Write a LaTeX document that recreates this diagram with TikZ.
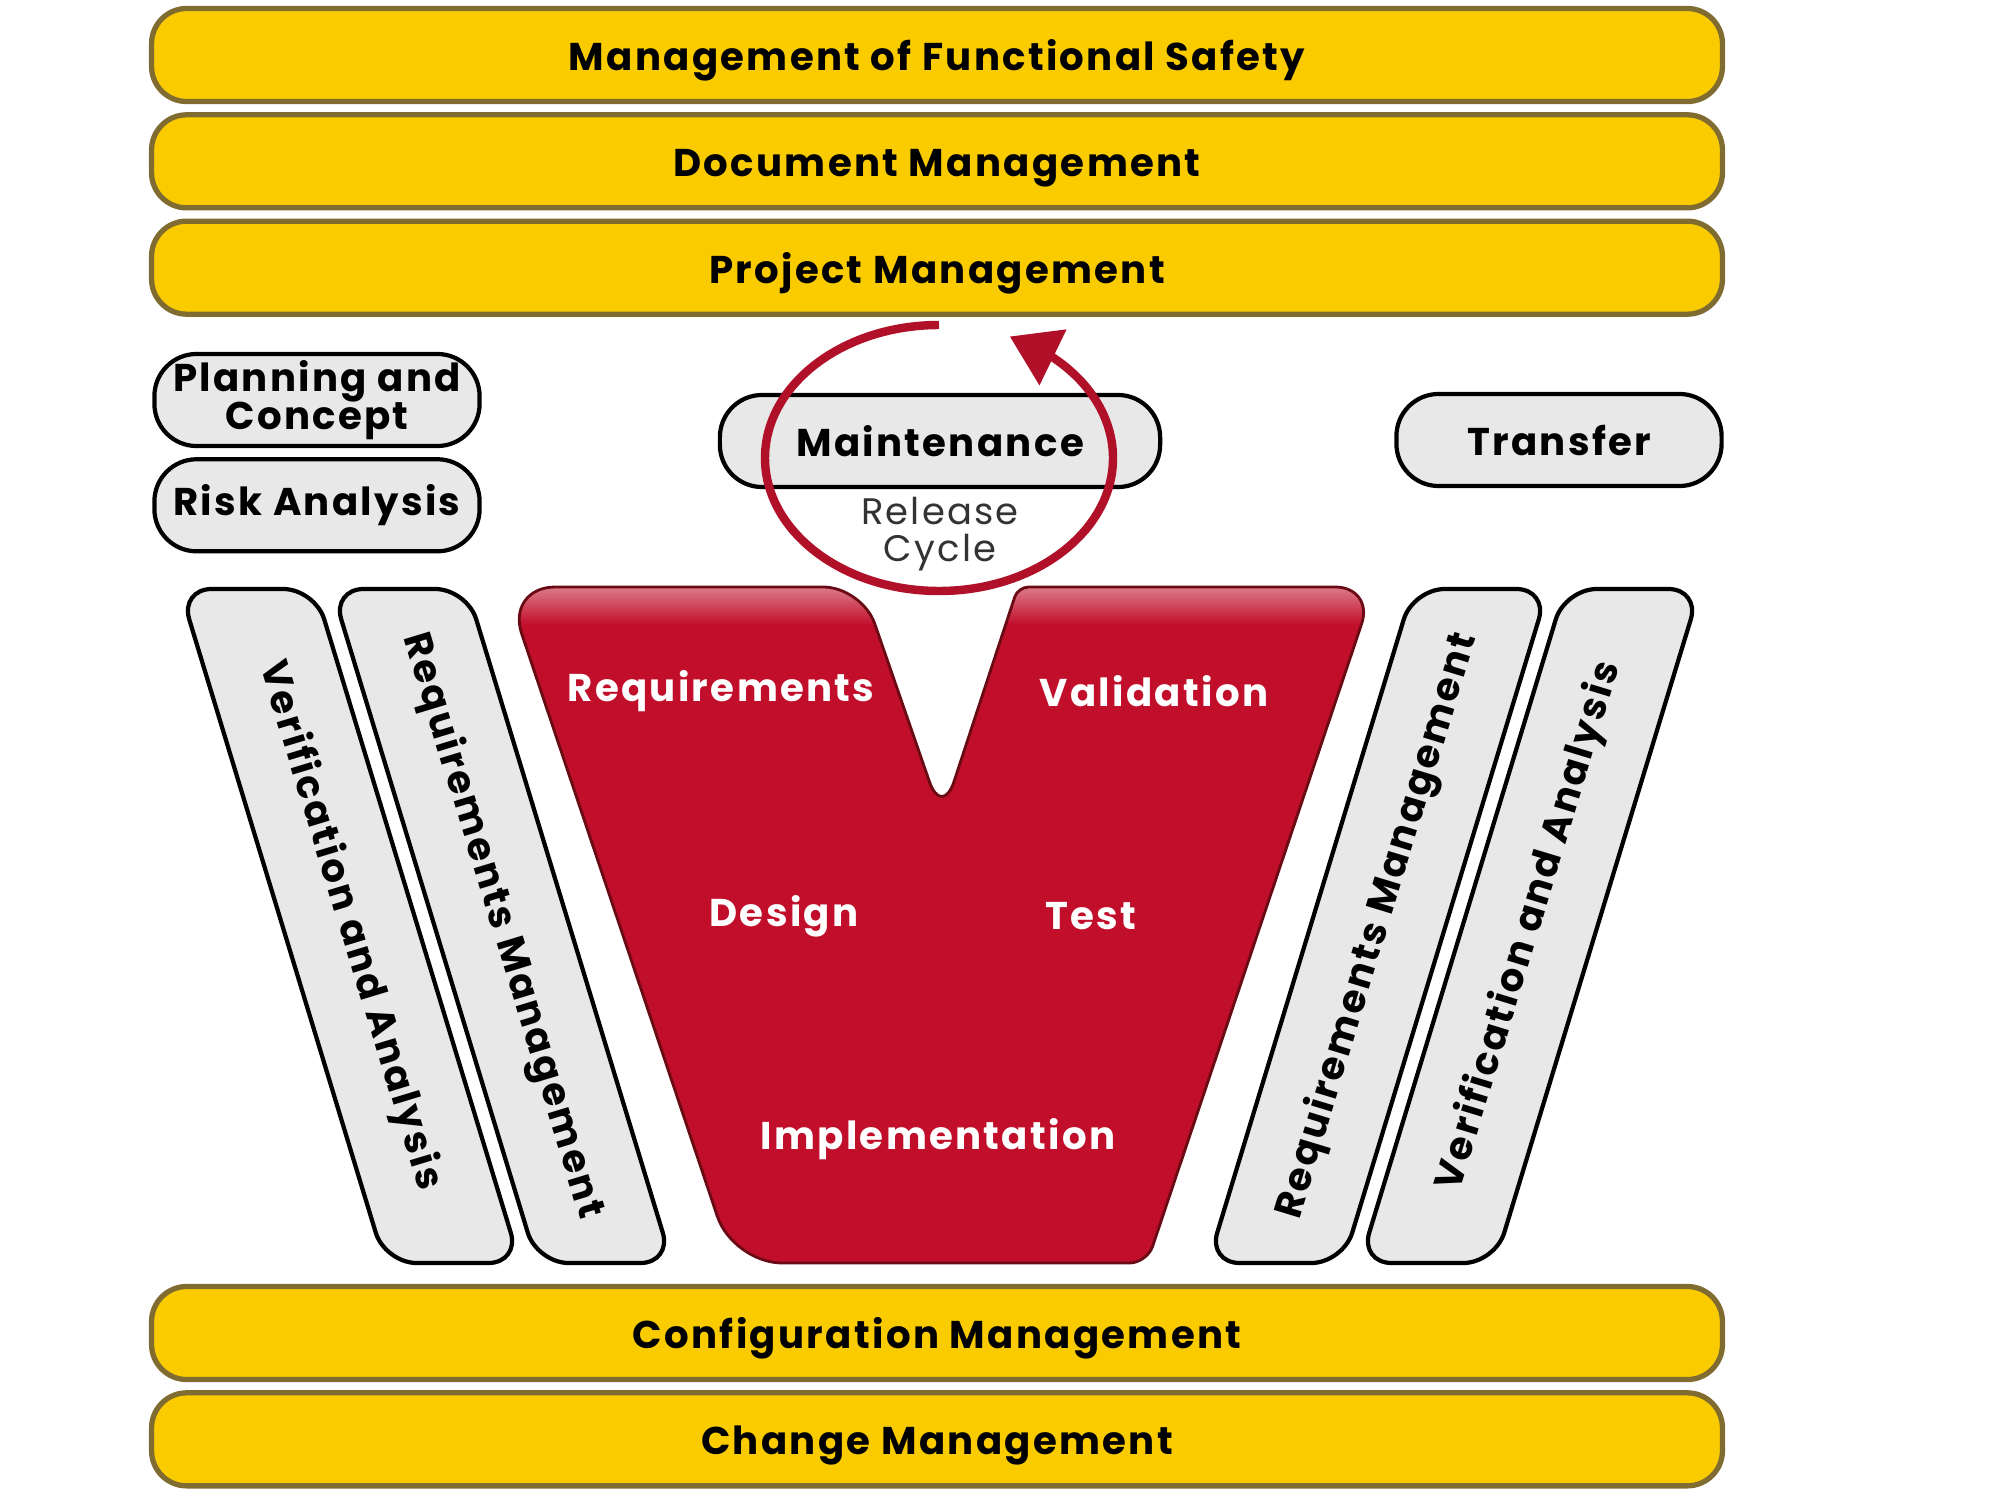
\documentclass[tikz,border=0pt]{standalone}
\usepackage{fontspec}
\setmainfont{Poppins}[LetterSpace=6]
\usepackage{tikz}
\usetikzlibrary{positioning,arrows.meta,bending}

\definecolor{bandyellow}{RGB}{250,204,0}
\definecolor{bandedge}{RGB}{128,108,48}
\definecolor{vred}{RGB}{193,14,42}
\definecolor{vedge}{RGB}{105,10,20}
\definecolor{ringred}{RGB}{176,16,40}
\definecolor{boxgray}{RGB}{232,232,232}

% outline of the V, used for the fill and the top gloss
\def\Vpath{(700,587) [rounded corners=11pt] -- (862,587) -- (942,818)
    [rounded corners=3pt] -- (1018,587)
    [rounded corners=11pt] -- (1374,587)
    [rounded corners=5pt] -- (1147,1263)
    [rounded corners=14pt] -- (733,1263) -- (506,587)
    [rounded corners=5pt] -- cycle}

\begin{document}
\begin{tikzpicture}[x=0.01cm,y=-0.01cm,
  font=\fontsize{11}{12}\selectfont\bfseries,
  >={Triangle[length=4.8mm,width=6mm,flex]},
  band/.style={draw=bandedge,fill=bandyellow,line width=1.5pt,rounded corners=10pt,
               minimum width=15.7cm,minimum height=0.93cm,text height=1.6ex,text depth=0pt},
  phase/.style={draw=black,fill=boxgray,line width=1.2pt,rounded corners=12pt,
                minimum width=3.25cm,minimum height=0.92cm,align=center},
  lane/.style={draw=black,fill=boxgray,line width=1.2pt,rounded corners=9pt},
  vlab/.style={text=white}]
  \useasboundingbox (0,0) rectangle (2000,1500);
  % --- management bands, top ---
  \node[band] (mfs) at (937,55) {Management of Functional Safety};
  \node[band,below=0.8mm of mfs] (doc) {Document Management};
  \node[band,below=0.8mm of doc] (prj) {Project Management};
  % --- phase boxes ---
  \node[phase,inner ysep=0pt] (plan) at (317,400) {Planning and\\[-1pt]Concept};
  \node[phase,below=0.9mm of plan] (risk) {Risk Analysis};
  \node[phase,minimum width=4.4cm] (maint) at (940,441) {Maintenance};
  \node[phase] (trans) at (1559,440) {Transfer};
  % --- slanted lanes left and right of the V ---
  \draw[lane] (248,589) -- (315,589) -- (520,1263) -- (385,1263) -- (180,589) -- cycle;
  \draw[lane] (400,589) -- (467,589) -- (672,1263) -- (537,1263) -- (332,589) -- cycle;
  \draw[lane] (1480,589) -- (1548,589) -- (1343,1263) -- (1208,1263) -- (1413,589) -- cycle;
  \draw[lane] (1632,589) -- (1700,589) -- (1495,1263) -- (1360,1263) -- (1565,589) -- cycle;
  \node[rotate=-73.1] (lva) at (350,926) {Verification and Analysis};
  \node[rotate=-73.1] (lrm) at (502,926) {Requirements Management};
  \node[rotate=73.1] (rrm) at (1378,926) {Requirements Management};
  \node[rotate=73.1] (rva) at (1530,926) {Verification and Analysis};
  % --- the V ---
  \path[fill=vred] \Vpath;
  \begin{scope}
    \clip \Vpath;
    \shade[top color=vred!55!white,bottom color=vred] (500,587) rectangle (1380,625);
  \end{scope}
  \path[draw=vedge,line width=0.8pt] \Vpath;
  \node[vlab] (req) at (721,691) {Requirements};
  \node[vlab] (val) at (1154,691) {Validation};
  \node[vlab] (des) at (784,916) {Design};
  \node[vlab] (tst) at (1091,916) {Test};
  \node[vlab] (impl) at (938,1139) {Implementation};
  % --- release cycle ---
  \node[font=\fontsize{10.5}{10.5}\selectfont\mdseries,text=black!80,align=center]
    (rel) at (940,534) {Release\\Cycle};
  \draw[ringred,line width=2.4pt,->] (939,458) ++(-90:174 and 133)
    arc[start angle=-90,end angle=-426,x radius=174,y radius=133];
  % --- management bands, bottom ---
  \node[band] (cfg) at (937,1333) {Configuration Management};
  \node[band,below=0.8mm of cfg] (chg) {Change Management};
\end{tikzpicture}
\end{document}
